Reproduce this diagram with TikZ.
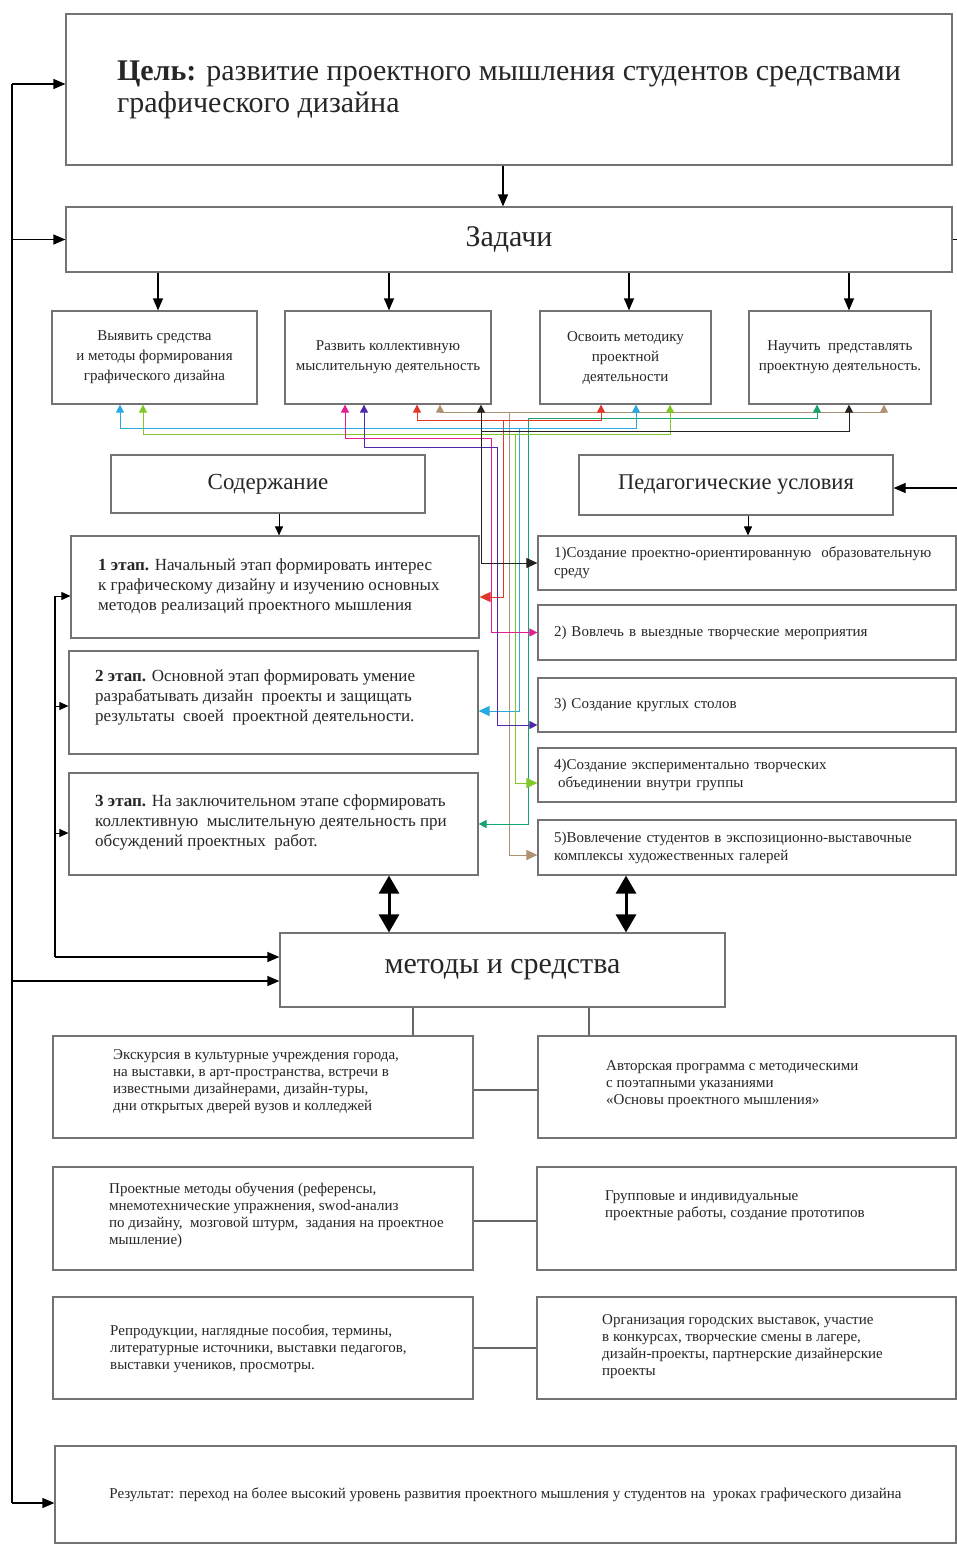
\documentclass[tikz,border=0pt]{standalone}
\usepackage{fontspec}
\setmainfont{Liberation Serif}
\usetikzlibrary{arrows.meta}
\definecolor{lcyan}{RGB}{40,170,225}
\definecolor{llime}{RGB}{130,200,40}
\definecolor{lmagenta}{RGB}{225,30,150}
\definecolor{lpurple}{RGB}{80,40,170}
\definecolor{lred}{RGB}{225,55,40}
\definecolor{ltan}{RGB}{175,145,115}
\definecolor{lteal}{RGB}{20,165,110}
\definecolor{lblack}{RGB}{35,35,35}

\begin{document}
\begin{tikzpicture}[x=1pt,y=-1pt]
	\tikzstyle{box}=[rectangle, draw=black!55, line width=1.2pt, text=black!85, inner sep=0pt]
	\tikzstyle{task}=[box, minimum height=93pt, align=center, font=\fontsize{15}{20}\selectfont]
	\tikzstyle{stage}=[box, minimum width=409pt]
	\tikzstyle{cond}=[box, minimum width=418pt, text width=386pt, align=left, font=\fontsize{15}{18}\selectfont]
	\tikzstyle{mbox}=[box, minimum width=420pt, minimum height=102pt]
	\tikzstyle{txt}=[inner sep=0pt, anchor=west, align=left, text=black!85]
	\tikzstyle{stagetxt}=[txt, font=\fontsize{17}{20}\selectfont]
	\tikzstyle{mtxt}=[txt, font=\fontsize{15}{17}\selectfont]
	\tikzstyle{arr}=[line width=1.2pt, -{Triangle[width=10pt,length=12pt]}]
	\tikzstyle{arrsmall}=[line width=1pt, -{Triangle[width=8pt,length=9pt]}]
	\tikzstyle{dbl}=[line width=3pt, {Triangle[width=20pt,length=18pt]}-{Triangle[width=20pt,length=18pt]}]
	\tikzstyle{link}=[line width=1pt, {Triangle[width=8pt,length=8pt]}-{Triangle[width=8pt,length=8pt]}]
	\tikzstyle{leg}=[line width=1pt, -{Triangle[width=10pt,length=11pt]}]
	\useasboundingbox[fill=white] (0,0) rectangle (957,1545);

	\node[box, minimum width=886pt, minimum height=151pt, align=left, font=\fontsize{30}{32}\selectfont] (goal) at (509, 89.5) {\textbf{Цель:} развитие проектного мышления студентов средствами\\графического дизайна};
	\node[box, minimum width=886pt, minimum height=65pt, font=\fontsize{30}{34}\selectfont] (zad) at (509, 239.5) {Задачи};

	\node[task, minimum width=205pt] (t1) at (154.5, 357.5) {Выявить средства\\и методы формирования\\графического дизайна};
	\node[task, minimum width=206pt] (t2) at (388, 357.5) {Развить коллективную\\мыслительную деятельность};
	\node[task, minimum width=171pt] (t3) at (625.5, 357.5) {Освоить методику\\проектной\\деятельности};
	\node[task, minimum width=182pt] (t4) at (840, 357.5) {Научить \ представлять\\проектную деятельность.};

	\node[box, minimum width=314pt, minimum height=58pt, font=\fontsize{23}{26}\selectfont] (sod) at (268, 484) {Содержание};
	\node[box, minimum width=314pt, minimum height=60pt, font=\fontsize{22.5}{26}\selectfont] (ped) at (736, 485) {Педагогические условия};

	\node[stage, minimum width=408pt, minimum height=102pt] (s1) at (275, 587) {};
	\node[stage, minimum height=103pt] (s2) at (273.5, 702.5) {};
	\node[stage, minimum height=102pt] (s3) at (273.5, 824) {};
	\node[stagetxt] (s1t) at (98, 586) {\textbf{1 этап.} Начальный этап формировать интерес\\к графическому дизайну и изучению основных\\методов реализаций проектного мышления};
	\node[stagetxt] (s2t) at (95, 697) {\textbf{2 этап.} Основной этап формировать умение\\разрабатывать дизайн \ проекты и защищать\\результаты \ своей \ проектной деятельности.};
	\node[stagetxt] (s3t) at (95, 822) {\textbf{3 этап.} На заключительном этапе сформировать\\коллективную \ мыслительную деятельность при\\обсуждений проектных \ работ.};

	\node[cond, minimum height=54pt] (c1) at (747, 563) {1)Создание проектно-ориентированную \ образовательную\\среду};
	\node[cond, minimum height=55pt] (c2) at (747, 632.5) {2) Вовлечь в выездные творческие мероприятия};
	\node[cond, minimum height=54pt] (c3) at (747, 705) {3) Создание круглых столов};
	\node[cond, minimum height=54pt] (c4) at (747, 775) {4)Создание экспериментально творческих\\\hspace*{4pt}объединении внутри группы};
	\node[cond, minimum height=55pt] (c5) at (747, 847.5) {5)Вовлечение студентов в экспозиционно-выставочные\\комплексы художественных галерей};

	\node[box, minimum width=445pt, minimum height=74pt, font=\fontsize{30}{34}\selectfont] (met) at (502.5, 970) {методы и средства};

	\node[mbox] (m1l) at (263, 1087) {};
	\node[mbox, minimum width=418pt] (m1r) at (747, 1087) {};
	\node[mbox, minimum height=103pt] (m2l) at (263, 1218.5) {};
	\node[mbox, minimum width=419pt, minimum height=103pt] (m2r) at (746.5, 1218.5) {};
	\node[mbox] (m3l) at (263, 1348) {};
	\node[mbox, minimum width=419pt] (m3r) at (746.5, 1348) {};
	\node[mtxt] (m1lt) at (113, 1081.5) {Экскурсия в культурные учреждения города,\\на выставки, в арт-пространства, встречи в\\известными дизайнерами, дизайн-туры,\\дни открытых дверей вузов и колледжей};
	\node[mtxt] (m1rt) at (606, 1084) {Авторская программа с методическими\\с поэтапными указаниями\\«Основы проектного мышления»};
	\node[mtxt] (m2lt) at (109, 1215) {Проектные методы обучения (референсы,\\мнемотехнические упражнения, swod-анализ\\по дизайну, \ мозговой штурм, \ задания на проектное\\мышление)};
	\node[mtxt] (m2rt) at (605, 1205.5) {Групповые и индивидуальные\\проектные работы, создание прототипов};
	\node[mtxt] (m3lt) at (110, 1349) {Репродукции, наглядные пособия, термины,\\литературные источники, выставки педагогов,\\выставки учеников, просмотры.};
	\node[mtxt] (m3rt) at (602, 1346.5) {Организация городских выставок, участие\\в конкурсах, творческие смены в лагере,\\дизайн-проекты, партнерские дизайнерские\\проекты};

	\node[box, minimum width=901pt, minimum height=97pt, font=\fontsize{15}{18}\selectfont] (res) at (505.5, 1494.5) {Результат: переход на более высокий уровень развития проектного мышления у студентов на \ уроках графического дизайна};

	\draw[arr] (503,0 |- goal.south) -- (503,0 |- zad.north);
	\draw[arr] (158,0 |- zad.south) -- (158,0 |- t1.north);
	\draw[arr] (389,0 |- zad.south) -- (389,0 |- t2.north);
	\draw[arr] (629,0 |- zad.south) -- (629,0 |- t3.north);
	\draw[arr] (849,0 |- zad.south) -- (849,0 |- t4.north);
	\draw[arrsmall] (279,0 |- sod.south) -- (279,0 |- s1.north);
	\draw[arrsmall] (748,0 |- ped.south) -- (748,0 |- c1.north);
	\draw[arr] (zad.east) -| (957.5,488) -- (ped.east |- 0,488);

	\coordinate (fb) at (12,84);
	\coordinate (fbend) at (12,1503);
	\draw[line width=1.2pt] (fb) -- (fbend);
	\draw[arr] (fb) -- (fb -| goal.west);
	\draw[arr] (zad.west -| fb) -- (zad.west);
	\draw[arr] (12,981) -- (met.west |- 0,981);
	\draw[arr] (fbend) -- (fbend -| res.west);

	\coordinate (lp) at (55,596);
	\coordinate (lpend) at (55,957);
	\draw[line width=1.2pt] (lp) -- (lpend);
	\draw[arrsmall] (lp) -- (lp -| s1.west);
	\draw[arrsmall] (55,706) -- (s2.west |- 0,706);
	\draw[arrsmall] (55,833) -- (s3.west |- 0,833);
	\draw[arr] (lpend) -- (lpend -| met.west);

	\draw[dbl] (389,0 |- s3.south) -- (389,0 |- met.north);
	\draw[dbl] (626,0 |- c5.south) -- (626,0 |- met.north);

	\draw[line width=1.2pt, black!60] (413,0 |- met.south) -- (413,0 |- m1l.north);
	\draw[line width=1.2pt, black!60] (589,0 |- met.south) -- (589,0 |- m1r.north);
	\draw[line width=1.2pt, black!60] (m1l.east |- 0,1090) -- (m1r.west |- 0,1090);
	\draw[line width=1.2pt, black!60] (m2l.east |- 0,1221) -- (m2r.west |- 0,1221);
	\draw[line width=1.2pt, black!60] (m3l.east) -- (m3r.west);

	\coordinate (jblack) at (481,431);
	\coordinate (jred) at (503,420);
	\coordinate (jcyan) at (519,428);
	\coordinate (jlime) at (515,434);
	\coordinate (jtan) at (509,412);
	\draw[link, ltan] (440,0 |- t2.south) -- (440,412) -| (884,0 |- t4.south);
	\draw[leg, ltan] (jtan) |- (c5.west |- 0,855);
	\draw[link, lteal] (817,0 |- t4.south) -- (817,418) -- (528,418) |- (s3.east);
	\draw[link, lred] (417,0 |- t2.south) -- (417,420) -| (601,0 |- t3.south);
	\draw[leg, lred] (jred) |- (s1.east |- 0,597);
	\draw[link, lcyan] (120,0 |- t1.south) -- (120,428) -| (636,0 |- t3.south);
	\draw[leg, lcyan] (jcyan) |- (s2.east |- 0,711);
	\draw[link, llime] (143,0 |- t1.south) -- (143,434) -| (670,0 |- t3.south);
	\draw[leg, llime] (jlime) |- (c4.west |- 0,783);
	\draw[link, lmagenta] (345,0 |- t2.south) -- (345,438) -- (491,438) |- (c2.west);
	\draw[link, lpurple] (364,0 |- t2.south) -- (364,447) -- (497,447) |- (c3.west |- 0,725);
	\draw[link, lblack] (481,0 |- t2.south) -- (jblack) -| (849,0 |- t4.south);
	\draw[leg, lblack] (jblack) |- (c1.west);
\end{tikzpicture}
\end{document}
